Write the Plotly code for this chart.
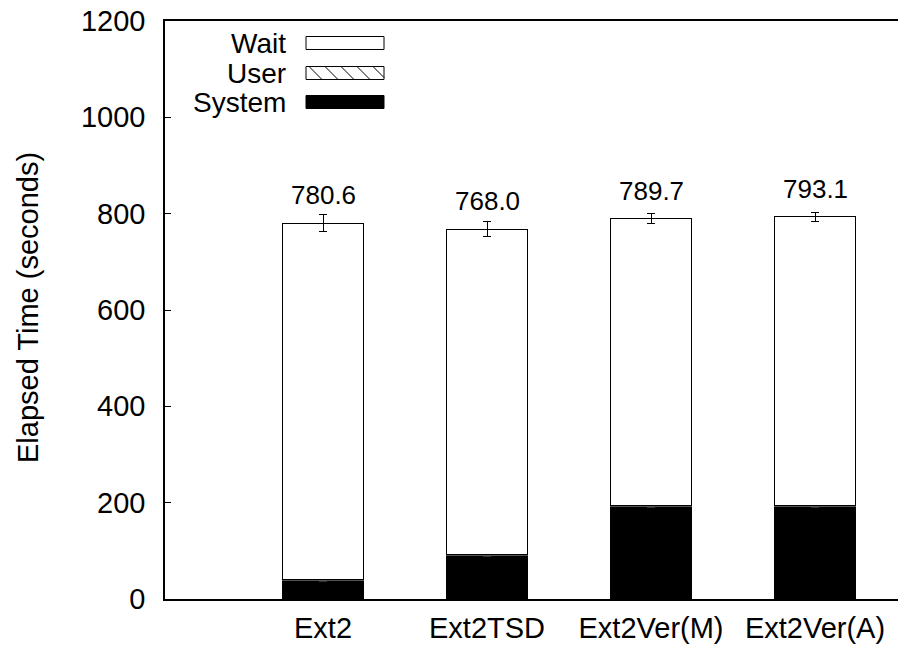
import plotly.graph_objects as go

# Elapsed time breakdown per file system configuration
configs = ["Ext2", "Ext2TSD", "Ext2Ver(M)", "Ext2Ver(A)"]
total_time = [780.6, 768.0, 789.7, 793.1]
system_time = [38.0, 90.0, 192.0, 192.0]
user_time = [2.0, 2.0, 3.0, 3.0]
total_err = [18.0, 16.0, 10.0, 10.0]
system_err = [1.0, 1.0, 1.5, 1.5]

wait_time = [t - s - u for t, s, u in zip(total_time, system_time, user_time)]

W, H = 898, 646
L, R, T, B = 165, 898, 21, 599  # plot area edges in pixels
FONT = "Liberation Sans, Arial, sans-serif"

xpos = list(range(len(configs)))
bar_w = 0.488


def px(x):
    return (x - L) / (R - L)


def py(y):
    return (B - y) / (B - T)


fig = go.Figure()
fig.add_trace(go.Bar(
    x=xpos, y=system_time, width=bar_w, name="System",
    marker=dict(color="black", line=dict(color="black", width=1)),
    error_y=dict(type="data", array=system_err, color="#333", thickness=1, width=4),
))
fig.add_trace(go.Bar(
    x=xpos, y=user_time, width=bar_w, name="User",
    marker=dict(color="white", line=dict(color="#555", width=1),
                pattern=dict(shape="\\", fgcolor="black", bgcolor="white", size=6)),
))
fig.add_trace(go.Bar(
    x=xpos, y=wait_time, width=bar_w, name="Wait",
    marker=dict(color="white", line=dict(color="black", width=1)),
    error_y=dict(type="data", array=total_err, color="black", thickness=1, width=4),
))

annotations = []
for i, t in enumerate(total_time):
    annotations.append(dict(
        x=i, y=t, xref="x", yref="y", text=f"{t:.1f}", showarrow=False,
        yshift=28, yanchor="middle", font=dict(family=FONT, size=26, color="black"),
    ))

# Axis title
annotations.append(dict(
    x=px(28), y=py(308), xref="paper", yref="paper", text="Elapsed Time (seconds)",
    textangle=-90, showarrow=False, xanchor="center", yanchor="middle",
    font=dict(family=FONT, size=29, color="black"),
))

# Key: labels and swatches
shapes = []
key_rows = [("Wait", 43), ("User", 73), ("System", 102)]
sw_x0, sw_x1, sw_h = 306, 384, 13
for name, yc in key_rows:
    annotations.append(dict(
        x=px(288), y=py(yc), xref="paper", yref="paper", text=name, showarrow=False,
        xanchor="right", yanchor="middle", font=dict(family=FONT, size=28, color="black"),
    ))
    y0, y1 = yc - sw_h / 2, yc + sw_h / 2
    fill = "black" if name == "System" else "white"
    shapes.append(dict(
        type="rect", xref="paper", yref="paper",
        x0=px(sw_x0), x1=px(sw_x1), y0=py(y1), y1=py(y0),
        fillcolor=fill, line=dict(color="black", width=1),
    ))
    if name == "User":
        a = sw_x0 - sw_h
        while a < sw_x1:
            t0 = max(0, sw_x0 - a)
            t1 = min(sw_h, sw_x1 - a)
            if t1 > t0:
                shapes.append(dict(
                    type="line", xref="paper", yref="paper",
                    x0=px(a + t0), y0=py(y0 + t0), x1=px(a + t1), y1=py(y0 + t1),
                    line=dict(color="black", width=1),
                ))
            a += 16

fig.update_layout(
    width=W, height=H,
    margin=dict(l=L, r=W - R, t=T, b=H - B, pad=0),
    paper_bgcolor="white", plot_bgcolor="white",
    barmode="stack", showlegend=False,
    font=dict(family=FONT, size=28, color="black"),
    annotations=annotations, shapes=shapes,
)
fig.update_xaxes(
    range=[(L - 323) / 164, (R - 323) / 164],
    tickvals=xpos, ticktext=configs, ticks="",
    showline=True, linecolor="black", linewidth=1.5, mirror=True,
    showgrid=False, zeroline=False, ticklabelstandoff=2,
    tickfont=dict(family=FONT, size=29, color="black"),
)
fig.update_yaxes(
    range=[0, 1200], dtick=200, ticks="inside", ticklen=6, tickcolor="black",
    showline=True, linecolor="black", linewidth=1.5, mirror=False,
    showgrid=False, zeroline=False, ticklabelstandoff=12,
    tickfont=dict(family=FONT, size=29, color="black"),
)

fig.write_html("out.html")
